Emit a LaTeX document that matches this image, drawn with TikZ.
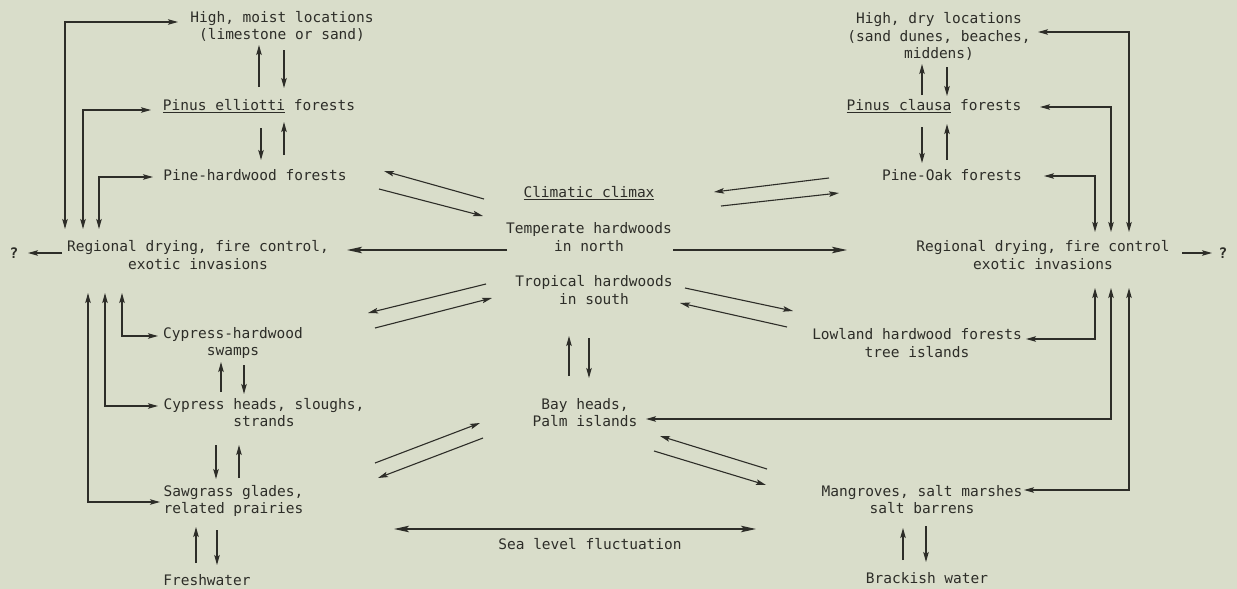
\documentclass[tikz,border=0pt]{standalone}
\usepackage{fontspec}
\newfontfamily\tw{DejaVu Sans Mono}
\usetikzlibrary{arrows.meta}
\definecolor{bg}{RGB}{217,221,202}
\definecolor{ink}{RGB}{45,45,40}
\begin{document}
\begin{tikzpicture}[x=1pt,y=-1pt,
  lbl/.style={font=\tw\fontsize{14.5}{17.5}\selectfont, text=ink, align=center, inner sep=0pt},
  arr/.style={draw=ink, line width=1.1pt, -{Stealth[length=10pt,width=5.5pt,inset=2pt]}},
  barr/.style={draw=ink, line width=1.1pt, {Stealth[length=10pt,width=5.5pt,inset=2pt]}-{Stealth[length=10pt,width=5.5pt,inset=2pt]}},
  bigarr/.style={draw=ink, line width=1.2pt, -{Stealth[length=15pt,width=6.5pt,inset=3pt]}},
  bigbarr/.style={draw=ink, line width=1.2pt, {Stealth[length=15pt,width=6.5pt,inset=3pt]}-{Stealth[length=15pt,width=6.5pt,inset=3pt]}}]
\fill[bg] (0,0) rectangle (1237,589);
\useasboundingbox (0,0) rectangle (1237,589);
% left column
\node[lbl] (hm) at (282,26.5) {High, moist locations\\(limestone or sand)};
\node[lbl] (pe) at (259,106) {\underline{Pinus elliotti} forests};
\node[lbl] (ph) at (255,175) {Pine-hardwood forests};
\node[lbl] (rl) at (198,255) {Regional drying, fire control,\\exotic invasions};
\node[lbl] (ql) at (14,253) {\textbf{?}};
\node[lbl] (ch) at (233,343) {Cypress-hardwood\\swamps};
\node[lbl] (chs) at (264,412.5) {Cypress heads, sloughs,\\strands};
\node[lbl] (sg) at (233.5,501) {Sawgrass glades,\\related prairies};
\node[lbl] (fw) at (207,580) {Freshwater};
% center
\node[lbl] (cc) at (589,193) {\underline{Climatic climax}};
\node[lbl] (th) at (589,237) {Temperate hardwoods\\in north};
\node[lbl] (tr) at (594,290) {Tropical hardwoods\\in south};
\node[lbl] (bh) at (585,412.5) {Bay heads,\\Palm islands};
\node[lbl] (sl) at (590,544) {Sea level fluctuation};
% right column
\node[lbl] (hd) at (939,36.5) {High, dry locations\\(sand dunes, beaches,\\middens)};
\node[lbl] (pc) at (934,106) {\underline{Pinus clausa} forests};
\node[lbl] (po) at (952,175) {Pine-Oak forests};
\node[lbl] (rr) at (1043,255) {Regional drying, fire control\\exotic invasions};
\node[lbl] (qr) at (1223,253) {\textbf{?}};
\node[lbl] (lh) at (917,343) {Lowland hardwood forests\\tree islands};
\node[lbl] (mg) at (922,499.5) {Mangroves, salt marshes\\salt barrens};
\node[lbl] (bw) at (927,578) {Brackish water};
% left arrows
\draw[arr] (259,87) -- (259,45);
\draw[arr] (284,50) -- (284,88);
\draw[arr] (261,128) -- (261,160);
\draw[arr] (284,155) -- (284,122);
\draw[barr] (178,22) -| (65,229);
\draw[barr] (151,110) -| (83,229);
\draw[barr] (153,177) -| (99,229);
\draw[arr] (62,253) -- (28,253);
\draw[barr] (122,293) |- (158,336);
\draw[barr] (105,293) |- (158,406);
\draw[barr] (88,293) |- (160,502);
\draw[arr] (221,392) -- (221,362);
\draw[arr] (244,365) -- (244,394);
\draw[arr] (216,445) -- (216,479);
\draw[arr] (239,478) -- (239,445);
\draw[arr] (196,563) -- (196,527);
\draw[arr] (217,530) -- (217,565);
% center arrows
\draw[arr] (484,199) -- (384,171);
\draw[arr] (379,189) -- (483,216);
\draw[bigarr] (507,250) -- (347,250);
\draw[bigarr] (673,250) -- (847,250);
\draw[arr] (829,178) -- (714,192);
\draw[arr] (721,206) -- (839,193);
\draw[arr] (486,284) -- (368,313);
\draw[arr] (375,328) -- (492,298);
\draw[arr] (685,288) -- (793,311);
\draw[arr] (787,327) -- (680,303);
\draw[arr] (569,376) -- (569,336);
\draw[arr] (589,338) -- (589,378);
\draw[arr] (375,463) -- (480,423);
\draw[arr] (483,438) -- (378,478);
\draw[arr] (767,469) -- (660,436);
\draw[arr] (654,451) -- (766,485);
\draw[bigbarr] (394,529) -- (756,529);
% right arrows
\draw[arr] (922,95) -- (922,64);
\draw[arr] (947,67) -- (947,96);
\draw[arr] (922,127) -- (922,163);
\draw[arr] (947,160) -- (947,124);
\draw[barr] (1038,32) -| (1129,232);
\draw[barr] (1040,107) -| (1111,232);
\draw[barr] (1044,176) -| (1095,232);
\draw[arr] (1182,253) -- (1212,253);
\draw[barr] (1095,288) |- (1026,339);
\draw[barr] (1111,288) |- (646,419);
\draw[barr] (1129,288) |- (1024,490);
\draw[arr] (903,560) -- (903,528);
\draw[arr] (926,526) -- (926,562);
\end{tikzpicture}
\end{document}
